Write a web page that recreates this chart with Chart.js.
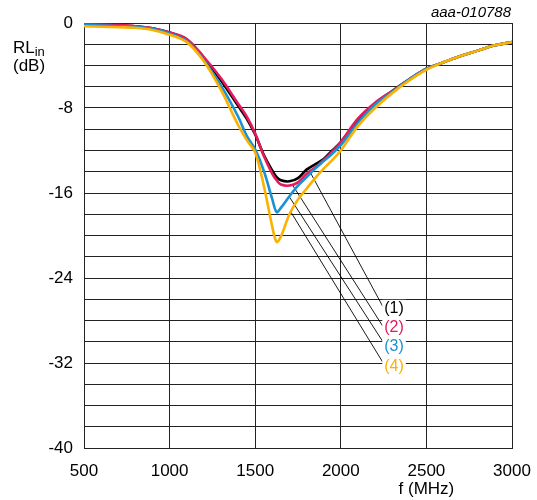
<!DOCTYPE html>
<html>
<head>
<meta charset="utf-8">
<script src="https://cdn.jsdelivr.net/npm/chart.js@4.4.1/dist/chart.umd.min.js"></script>
<style>
	html, body { margin: 0; padding: 0; background: #fff; }
	#wrap { width: 537px; height: 500px; }
</style>
</head>
<body>
<div id="wrap"><canvas id="chart" width="537" height="500"></canvas></div>
<script>
const freq = [500, 600, 700, 800, 900, 1000, 1100, 1200, 1300, 1400, 1450, 1500, 1550, 1600, 1625, 1650, 1700, 1750, 1800, 1850, 1900, 1950, 2000, 2100, 2200, 2300, 2400, 2500, 2600, 2700, 2800, 2900, 3000]
const rl1 = [-0.15, -0.2, -0.25, -0.3, -0.5, -0.9, -1.55, -3.3, -5.4, -7.8, -9.0, -10.5, -12.4, -13.9, -14.5, -14.8, -14.9, -14.6, -13.8, -13.3, -12.8, -12.0, -11.2, -9.2, -7.6, -6.4, -5.3, -4.3, -3.7, -3.1, -2.6, -2.1, -1.8]
const rl2 = [-0.1, -0.15, -0.2, -0.3, -0.5, -0.9, -1.5, -3.2, -5.2, -7.6, -8.8, -10.4, -12.5, -14.2, -14.8, -15.2, -15.3, -15.0, -14.2, -13.6, -12.9, -12.1, -11.2, -9.0, -7.5, -6.4, -5.3, -4.3, -3.7, -3.1, -2.6, -2.1, -1.8]
const rl3 = [-0.2, -0.25, -0.3, -0.35, -0.55, -1.0, -1.7, -3.5, -5.9, -8.8, -10.6, -11.9, -13.9, -16.6, -17.8, -17.4, -16.3, -15.3, -14.5, -13.7, -13.0, -12.3, -11.5, -9.4, -7.7, -6.5, -5.3, -4.3, -3.7, -3.1, -2.6, -2.1, -1.8]
const rl4 = [-0.3, -0.35, -0.4, -0.45, -0.65, -1.1, -1.8, -3.6, -6.3, -9.6, -11.0, -12.2, -15.3, -19.2, -20.6, -20.1, -18.0, -16.6, -15.6, -14.6, -13.7, -12.9, -12.0, -9.7, -8.0, -6.6, -5.4, -4.4, -3.7, -3.1, -2.6, -2.1, -1.8]

const seriesNames = ["(1)", "(2)", "(3)", "(4)"]
const seriesColors = ["#000000", "#e5195e", "#1a91d2", "#fbb100"]

// leader lines: from a point on the curve to the label
const leaderFrom = [[1808, -13.65], [1718, -15.25], [1697, -16.3], [1705, -17.7]]
const leaderTo = [[2246, -26.7], [2246, -28.55], [2246, -30.0], [2246, -31.95]]
const labelF = 2311
const labelDb = [-26.9, -28.7, -30.5, -32.3]

const xTicks = { min: 500, max: 3000, step: 500 }
const yTicks = { min: -40, max: 0, step: 2, labelEvery: 8 }

const FONT = "'Liberation Sans', Arial, sans-serif"

const toPoints = (ys) => freq.map((f, i) => ({ x: f, y: ys[i] }))

const curves = [rl1, rl2, rl3, rl4].map((ys, i) => ({
	label: seriesNames[i],
	data: toPoints(ys),
	borderColor: seriesColors[i],
	borderWidth: 2.6,
	pointRadius: 0,
	tension: 0.35,
	order: 3 - i,
}))

const leaders = leaderFrom.map((p, i) => ({
	label: "leader" + i,
	data: [{ x: p[0], y: p[1] }, { x: leaderTo[i][0], y: leaderTo[i][1] }],
	borderColor: "#000",
	borderWidth: 0.9,
	pointRadius: 0,
	order: 10,
}))

const textPlugin = {
	id: "texts",
	afterDraw(chart) {
		const ctx = chart.ctx
		const xs = chart.scales.x
		const ys = chart.scales.y
		ctx.save()
		// series labels with white box behind
		ctx.font = "16px " + FONT
		ctx.textAlign = "center"
		ctx.textBaseline = "middle"
		for (let i = 0; i < seriesNames.length; i++) {
			const x = xs.getPixelForValue(labelF)
			const y = ys.getPixelForValue(labelDb[i])
			const w = ctx.measureText(seriesNames[i]).width
			ctx.fillStyle = "#fff"
			ctx.fillRect(x - w / 2 - 2, y - 9, w + 4, 18)
			ctx.fillStyle = seriesColors[i]
			ctx.fillText(seriesNames[i], x, y)
		}
		// y axis title RL_in (dB)
		ctx.fillStyle = "#000"
		ctx.textAlign = "left"
		ctx.textBaseline = "alphabetic"
		ctx.font = "17px " + FONT
		ctx.fillText("RL", 13, 53)
		const rlw = ctx.measureText("RL").width
		ctx.font = "13px " + FONT
		ctx.fillText("in", 13 + rlw, 56)
		ctx.font = "17px " + FONT
		ctx.fillText("(dB)", 13, 71)
		// x axis title
		ctx.textAlign = "center"
		ctx.fillText("f (MHz)", xs.getPixelForValue(2500), 494)
		// figure code
		ctx.textAlign = "right"
		ctx.font = "italic 15px " + FONT
		ctx.fillText("aaa-010788", 511, 17)
		ctx.restore()
	},
}

window.onload = () => {
	new Chart(document.getElementById("chart"), {
		type: "line",
		data: { datasets: curves.concat(leaders) },
		options: {
			responsive: false,
			animation: false,
			events: [],
			layout: { padding: { left: 0, right: 25, top: 23, bottom: 0 } },
			plugins: { legend: { display: false }, tooltip: { enabled: false } },
			scales: {
				x: {
					type: "linear",
					min: xTicks.min,
					max: xTicks.max,
					afterFit: (s) => {
						s.height = 52
						s.paddingLeft = 0
						s.paddingRight = 0
					},
					ticks: {
						stepSize: xTicks.step,
						color: "#000",
						padding: 13,
						maxRotation: 0,
						autoSkip: false,
						font: { size: 17, family: FONT },
						callback: (v) => String(v),
					},
					grid: { color: "#222", lineWidth: 1, drawTicks: false },
					border: { color: "#222" },
				},
				y: {
					min: yTicks.min,
					max: yTicks.max,
					afterFit: (s) => {
						s.width = 84
						s.paddingTop = 0
						s.paddingBottom = 0
					},
					ticks: {
						stepSize: yTicks.step,
						color: "#000",
						padding: 11,
						autoSkip: false,
						font: { size: 17, family: FONT },
						callback: (v) => (v % yTicks.labelEvery === 0 ? String(v) : ""),
					},
					grid: { color: "#222", lineWidth: 1, drawTicks: false },
					border: { color: "#222" },
				},
			},
		},
		plugins: [textPlugin],
	})
}
</script>
</body>
</html>
